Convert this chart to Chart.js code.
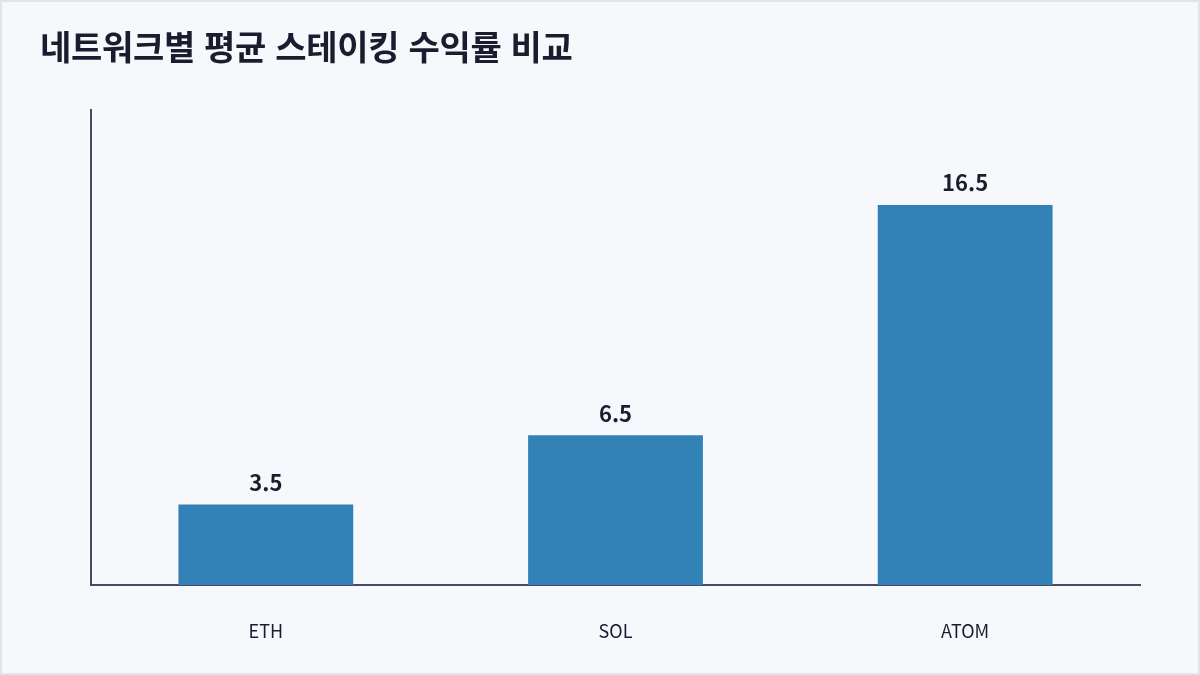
<!DOCTYPE html>
<html lang="ko">
<head>
<meta charset="utf-8">
<script src="https://cdn.jsdelivr.net/npm/chart.js@4/dist/chart.umd.min.js"></script>
<style>
  html, body { margin: 0; padding: 0; background: #f7f8fc; }
  #frame {
    position: absolute; left: 0; top: 0;
    width: 1200px; height: 675px; box-sizing: border-box;
    border: 2px solid #e2e4ec; background: #f7f8fc;
  }
  #title {
    position: absolute; left: 38px; top: 27px; margin: 0;
    font-family: "Noto Sans CJK KR", "Noto Sans", sans-serif;
    font-size: 34px; line-height: 34px; font-weight: 700; color: #1c1c2e;
    letter-spacing: -0.3px;
  }
  #wrap { position: absolute; left: 0; top: 0; width: 1196px; height: 671px; }
</style>
</head>
<body>
<div id="frame">
  <div id="wrap"><canvas id="myChart"></canvas></div>
  <h1 id="title">네트워크별 평균 스테이킹 수익률 비교</h1>
</div>
<script>
// chart data
var networks = ["ETH", "SOL", "ATOM"];
var stakingYield = [3.5, 6.5, 16.5];

var fontFamily = '"Noto Sans CJK KR", "Noto Sans", sans-serif';

// draw value above each bar
var valueLabels = {
  id: "valueLabels",
  afterDatasetsDraw: function (chart) {
    var ctx = chart.ctx;
    var meta = chart.getDatasetMeta(0);
    ctx.save();
    ctx.font = "700 22px " + fontFamily;
    ctx.fillStyle = "#1c1c2e";
    ctx.textAlign = "center";
    ctx.textBaseline = "bottom";
    meta.data.forEach(function (bar, i) {
      ctx.fillText(String(stakingYield[i]), bar.x, bar.y - 11);
    });
    ctx.restore();
  },
};

var ctx = document.getElementById("myChart").getContext("2d");
var myChart = new Chart(ctx, {
  type: "bar",
  data: {
    labels: networks,
    datasets: [
      {
        label: "평균 스테이킹 수익률",
        data: stakingYield,
        backgroundColor: "#3282b8",
        borderWidth: 0,
        barPercentage: 0.5,
        categoryPercentage: 1.0,
      },
    ],
  },
  options: {
    responsive: true,
    maintainAspectRatio: false,
    animation: false,
    layout: { padding: { left: 89, right: 58, top: 108, bottom: 0 } },
    plugins: {
      legend: { display: false },
      tooltip: { enabled: false },
    },
    scales: {
      x: {
        grid: { display: false, drawTicks: false },
        border: { display: true, color: "#4a4a66", width: 2 },
        ticks: {
          color: "#1c1c2e",
          padding: 35,
          font: { family: fontFamily, size: 18 },
        },
        afterFit: function (scale) { scale.height = 88; },
      },
      y: {
        min: 0,
        max: Math.max.apply(null, stakingYield) * 1.25,
        grid: { display: false, drawTicks: false },
        border: { display: true, color: "#4a4a66", width: 2 },
        ticks: { display: false },
        afterFit: function (scale) { scale.width = 0; },
      },
    },
  },
  plugins: [valueLabels],
});
</script>
</body>
</html>
